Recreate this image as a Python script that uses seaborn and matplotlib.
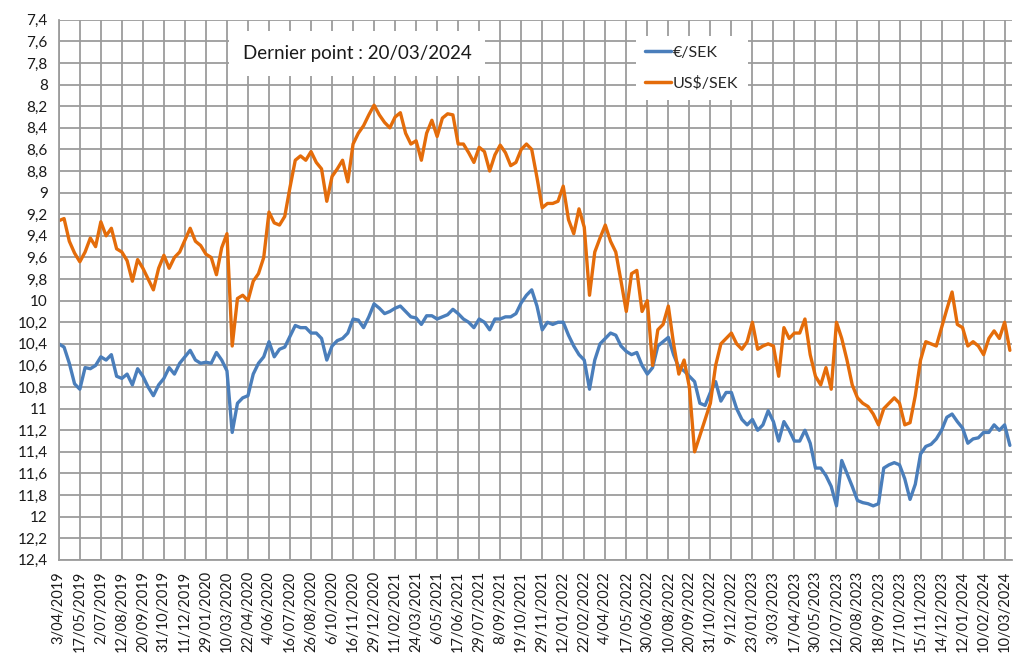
# Recreates the SEK exchange rate chart (EUR/SEK and USD/SEK, inverted scale).

import seaborn as sns
import pandas as pd
import matplotlib
matplotlib.use("Agg")
import matplotlib.pyplot as plt
import numpy as np

sns.set_theme(style="white")
plt.rcParams['font.family'] = ['Lato', 'DejaVu Sans']

# Tick labels of the category axis (one every 30 business days).
date_labels = [
    "3/04/2019", "17/05/2019", "2/07/2019", "12/08/2019", "20/09/2019", "31/10/2019",
    "11/12/2019", "29/01/2020", "10/03/2020", "22/04/2020", "4/06/2020", "16/07/2020",
    "26/08/2020", "6/10/2020", "16/11/2020", "29/12/2020", "11/02/2021", "24/03/2021",
    "6/05/2021", "17/06/2021", "29/07/2021", "8/09/2021", "19/10/2021", "29/11/2021",
    "12/01/2022", "22/02/2022", "4/04/2022", "17/05/2022", "30/06/2022", "10/08/2022",
    "20/09/2022", "31/10/2022", "9/12/2022", "23/01/2023", "3/03/2023", "17/04/2023",
    "30/05/2023", "12/07/2023", "20/08/2023", "18/09/2023", "17/10/2023", "15/11/2023",
    "14/12/2023", "12/01/2024", "10/02/2024", "10/03/2024",
]

# Samples per label interval (values at each quarter interval).
samples_per_label = 4

eur_sek = [
    10.40, 10.43, 10.58, 10.77, 10.82, 10.62, 10.63, 10.60, 10.52, 10.55, 10.50, 10.70,
    10.72, 10.68, 10.78, 10.63, 10.70, 10.80, 10.88, 10.78, 10.72, 10.62, 10.68, 10.58,
    10.52, 10.46, 10.55, 10.58, 10.57, 10.58, 10.48, 10.55, 10.65, 11.22, 10.95, 10.90,
    10.88, 10.68, 10.58, 10.52, 10.38, 10.52, 10.45, 10.43, 10.33, 10.23, 10.25, 10.25,
    10.30, 10.30, 10.35, 10.55, 10.42, 10.37, 10.35, 10.30, 10.17, 10.18, 10.25, 10.15,
    10.03, 10.07, 10.12, 10.10, 10.07, 10.05, 10.10, 10.15, 10.16, 10.22, 10.14, 10.14,
    10.17, 10.15, 10.13, 10.08, 10.12, 10.17, 10.20, 10.25, 10.17, 10.20, 10.27, 10.17,
    10.17, 10.15, 10.15, 10.12, 10.02, 9.95, 9.90, 10.05, 10.27, 10.20, 10.22, 10.20,
    10.20, 10.32, 10.42, 10.50, 10.55, 10.82, 10.55, 10.40, 10.35, 10.30, 10.32, 10.42,
    10.47, 10.50, 10.48, 10.60, 10.68, 10.62, 10.42, 10.38, 10.34, 10.50, 10.62, 10.65,
    10.70, 10.75, 10.95, 10.97, 10.85, 10.75, 10.93, 10.85, 10.85, 11.00, 11.10, 11.15,
    11.10, 11.20, 11.15, 11.02, 11.12, 11.30, 11.12, 11.20, 11.30, 11.30, 11.20, 11.32,
    11.55, 11.55, 11.62, 11.72, 11.90, 11.48, 11.60, 11.72, 11.85, 11.87, 11.88, 11.90,
    11.88, 11.55, 11.52, 11.50, 11.52, 11.65, 11.84, 11.70, 11.42, 11.35, 11.33, 11.28,
    11.20, 11.08, 11.05, 11.12, 11.18, 11.32, 11.28, 11.27, 11.22, 11.22, 11.15, 11.20,
    11.15, 11.34,
]

usd_sek = [
    9.26, 9.24, 9.45, 9.56, 9.64, 9.55, 9.42, 9.50, 9.27, 9.40, 9.33, 9.52,
    9.55, 9.63, 9.82, 9.62, 9.70, 9.80, 9.90, 9.70, 9.58, 9.70, 9.60, 9.55,
    9.44, 9.33, 9.45, 9.49, 9.57, 9.60, 9.76, 9.51, 9.38, 10.42, 9.98, 9.95,
    10.00, 9.82, 9.75, 9.60, 9.18, 9.28, 9.30, 9.22, 8.95, 8.70, 8.66, 8.70,
    8.62, 8.72, 8.78, 9.08, 8.85, 8.78, 8.70, 8.90, 8.55, 8.45, 8.38, 8.28,
    8.19, 8.28, 8.35, 8.40, 8.30, 8.26, 8.45, 8.55, 8.52, 8.70, 8.45, 8.33,
    8.48, 8.31, 8.27, 8.28, 8.55, 8.55, 8.63, 8.72, 8.58, 8.62, 8.80, 8.65,
    8.56, 8.63, 8.75, 8.72, 8.60, 8.55, 8.60, 8.86, 9.14, 9.10, 9.10, 9.08,
    8.94, 9.25, 9.38, 9.15, 9.32, 9.95, 9.55, 9.42, 9.30, 9.45, 9.55, 9.82,
    10.10, 9.75, 9.72, 10.10, 10.00, 10.60, 10.27, 10.22, 10.05, 10.40, 10.68, 10.55,
    10.80, 11.40, 11.25, 11.10, 10.95, 10.60, 10.40, 10.35, 10.30, 10.40, 10.45, 10.38,
    10.20, 10.45, 10.42, 10.40, 10.42, 10.70, 10.25, 10.35, 10.30, 10.30, 10.17, 10.50,
    10.70, 10.78, 10.62, 10.82, 10.20, 10.35, 10.55, 10.78, 10.90, 10.95, 10.98, 11.05,
    11.15, 11.00, 10.95, 10.90, 10.95, 11.15, 11.13, 10.88, 10.55, 10.38, 10.40, 10.42,
    10.25, 10.08, 9.92, 10.22, 10.25, 10.42, 10.38, 10.42, 10.50, 10.35, 10.28, 10.35,
    10.20, 10.46,
]

series_names = ["€/SEK", "US$/SEK"]
colors = ["#4a7ebb", "#e46c0a"]

position = np.arange(len(eur_sek)) / samples_per_label
df = pd.DataFrame({"pos": position, series_names[0]: eur_sek, series_names[1]: usd_sek})
dfm = df.melt(id_vars="pos", var_name="serie", value_name="value")

fig = plt.figure(figsize=(10.14, 6.61), dpi=100)
ax = fig.add_axes([0.058, 0.153, 0.940, 0.817])

sns.lineplot(data=dfm, x="pos", y="value", hue="serie", palette=colors,
             linewidth=2.4, ax=ax, legend=False)

# Inverted y axis with comma decimals.
yticks = np.round(np.arange(7.4, 12.41, 0.2), 1)
ax.set_yticks(yticks)
ax.set_yticklabels([("%g" % v).replace(".", ",") for v in yticks], fontsize=11)
ax.set_ylim(12.4, 7.4)

ax.set_xticks(range(len(date_labels)))
ax.set_xticklabels(date_labels, rotation=90, fontsize=10.5)
ax.set_xlim(0, 45.35)

ax.grid(True, color="#9c9c9c", linewidth=1.3)
ax.set_axisbelow(True)
ax.tick_params(axis="both", length=5, width=1, colors="#9c9c9c", labelcolor="#1a1a1a", pad=3)
for side in ["top", "right"]:
    ax.spines[side].set_visible(False)
for side in ["left", "bottom"]:
    ax.spines[side].set_color("#9c9c9c")
    ax.spines[side].set_linewidth(1.3)
ax.set_xlabel("")
ax.set_ylabel("")

ax.text(0.313, 0.937, "Dernier point : 20/03/2024", transform=ax.transAxes,
        ha="center", va="center", fontsize=13.5, color="#1a1a1a",
        bbox=dict(facecolor="white", edgecolor="none", pad=10))

handles = [plt.Line2D([], [], color=c, linewidth=2.5) for c in colors]
ax.legend(handles, series_names, loc="upper left", bbox_to_anchor=(0.597, 0.985),
          frameon=True, facecolor="white", edgecolor="none", fancybox=False,
          framealpha=1, fontsize=11.5, handlelength=1.6, handletextpad=0.1,
          labelspacing=1.0, borderpad=0.6)

plt.savefig("out.png", dpi=100)
